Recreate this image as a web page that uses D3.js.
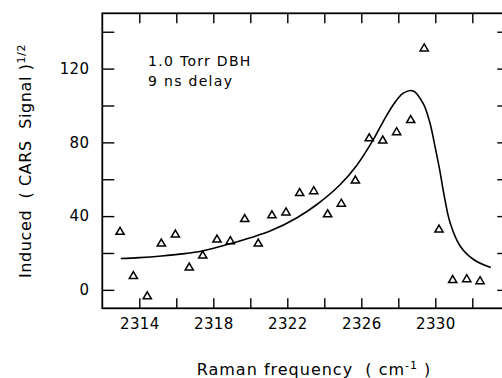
<!DOCTYPE html>
<html>
<head>
<meta charset="utf-8">
<script src="https://cdn.jsdelivr.net/npm/d3@7"></script>
<style>
  body { margin: 0; background: #fff; }
  svg { display: block; }
  text { font-family: "DejaVu Sans", sans-serif; fill: #000; }
</style>
</head>
<body>
<div id="chart"></div>
<script>
// measured points (triangles)
var freq = [2312.96, 2313.68, 2314.43, 2315.19, 2315.95, 2316.70, 2317.43, 2318.20, 2318.92,
            2319.70, 2320.43, 2321.17, 2321.93, 2322.67, 2323.43, 2324.18, 2324.92, 2325.68,
            2326.43, 2327.16, 2327.91, 2328.67, 2329.40, 2330.20, 2330.94, 2331.70, 2332.42];
var signal = [32, 8, -3, 25.6, 30.5, 12.6, 19.1, 27.8, 26.9,
              38.9, 25.6, 40.9, 42.5, 53, 54, 41.5, 47.2, 59.8,
              82.7, 81.5, 86, 92.6, 131.4, 33.2, 5.8, 6.3, 5.2];

// fitted curve
var fitX = [2313.0, 2314.0, 2315.2, 2316.3, 2317.4, 2318.8, 2320.0, 2321.1, 2322.5, 2323.6,
            2324.85, 2325.75, 2326.65, 2327.19, 2327.73, 2328.27, 2328.81, 2329.35,
            2329.71, 2329.98, 2330.22, 2330.5, 2330.8, 2331.34, 2332.05, 2333.0];
var fitY = [17, 17.5, 18.4, 19.5, 21.1, 24.7, 28.3, 32, 39, 46.3,
            57, 67.5, 81.5, 91.4, 100.4, 106.7, 107.9, 101,
            90.5, 78, 66, 50, 36.4, 23.8, 16.6, 12.1];

var xTicks = [2314, 2316, 2318, 2320, 2322, 2324, 2326, 2328, 2330, 2332];
var xLabels = [2314, 2318, 2322, 2326, 2330];
var yTicks = [0, 20, 40, 60, 80, 100, 120, 140];
var yLabels = [0, 40, 80, 120];

var W = 502, H = 378;
var padL = 102.3, padT = 13.3, padB = 308.3;
var pxPerUnit = 18.5;

var svg = d3.select('#chart')
    .append('svg')
    .attr('width', W)
    .attr('height', H);

var x = d3.scaleLinear().domain([2312, 2334]).range([padL, padL + 22 * pxPerUnit]);
var y = d3.scaleLinear().domain([-10, 150]).range([padB, padT]);
var padR = x(2334);

// frame
svg.append('rect')
    .attr('x', padL).attr('y', padT)
    .attr('width', padR - padL).attr('height', padB - padT)
    .attr('fill', 'none').attr('stroke', '#000').attr('stroke-width', 1.8);

var fmtX = function(d) { return xLabels.indexOf(d) >= 0 ? d : ''; };
var fmtY = function(d) { return yLabels.indexOf(d) >= 0 ? d : ''; };

var styleAxis = function(g) {
	g.select('.domain').remove();
	g.selectAll('line').attr('stroke', '#000').attr('stroke-width', 1.4);
	g.selectAll('text').attr('font-size', 15).attr('letter-spacing', 0.3)
	    .attr('font-family', '"DejaVu Sans", sans-serif');
}

svg.append('g')
    .attr('transform', 'translate(0,' + padB + ')')
    .call(d3.axisBottom(x).tickValues(xTicks).tickSize(-10).tickSizeOuter(0).tickPadding(10).tickFormat(fmtX))
    .call(styleAxis);

svg.append('g')
    .attr('transform', 'translate(0,' + padT + ')')
    .call(d3.axisTop(x).tickValues(xTicks).tickSize(-10).tickSizeOuter(0).tickFormat(''))
    .call(styleAxis);

svg.append('g')
    .attr('transform', 'translate(' + padL + ',0)')
    .call(d3.axisLeft(y).tickValues(yTicks).tickSize(-12).tickSizeOuter(0).tickPadding(13).tickFormat(fmtY))
    .call(styleAxis);

svg.append('g')
    .attr('transform', 'translate(' + padR + ',0)')
    .call(d3.axisRight(y).tickValues(yTicks).tickSize(-12).tickSizeOuter(0).tickFormat(''))
    .call(styleAxis);

// fit curve
var fit = fitX.map(function(v, i) { return [v, fitY[i]]; });
var line = d3.line()
    .x(function(d) { return x(d[0]); })
    .y(function(d) { return y(d[1]); })
    .curve(d3.curveCatmullRom);

svg.append('path')
    .datum(fit)
    .attr('d', line)
    .attr('fill', 'none')
    .attr('stroke', '#000')
    .attr('stroke-width', 1.6);

// triangles
var pts = freq.map(function(v, i) { return [v, signal[i]]; });
svg.selectAll('.tri')
    .data(pts)
    .enter().append('path')
    .attr('class', 'tri')
    .attr('transform', function(d) { return 'translate(' + x(d[0]) + ',' + y(d[1]) + ')'; })
    .attr('d', 'M0,-3.6L4.1,3.4L-4.1,3.4Z')
    .attr('fill', 'none')
    .attr('stroke', '#000')
    .attr('stroke-width', 1.5);

// annotation
svg.append('text')
    .attr('x', 148).attr('y', 66)
    .attr('font-size', 14)
    .attr('letter-spacing', 1.3)
    .text('1.0 Torr DBH');
svg.append('text')
    .attr('x', 148).attr('y', 86)
    .attr('font-size', 14)
    .attr('letter-spacing', 1.3)
    .text('9 ns delay');

// axis titles
var xt = svg.append('text')
    .attr('x', 314).attr('y', 375)
    .attr('text-anchor', 'middle')
    .attr('font-size', 16)
    .attr('letter-spacing', 1)
    .attr('xml:space', 'preserve');
xt.append('tspan').text('Raman frequency  ( cm');
xt.append('tspan').attr('dy', -6).attr('font-size', 11).text('-1');
xt.append('tspan').attr('dy', 6).text(' )');

var yt = svg.append('text')
    .attr('transform', 'translate(31,161) rotate(-90)')
    .attr('text-anchor', 'middle')
    .attr('font-size', 16)
    .attr('letter-spacing', 0.6)
    .attr('xml:space', 'preserve');
yt.append('tspan').text('Induced  ( CARS  Signal )');
yt.append('tspan').attr('dy', -6).attr('font-size', 11).text('1/2');
</script>
</body>
</html>
